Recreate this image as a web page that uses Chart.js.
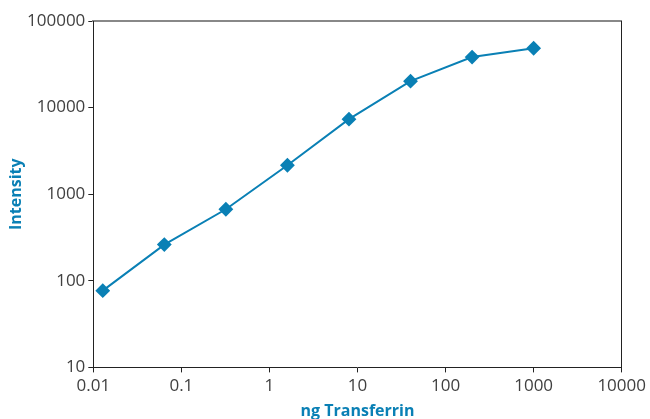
<!DOCTYPE html>
<html>
<head>
<meta charset="utf-8">
<script src="https://cdn.jsdelivr.net/npm/chart.js@4"></script>
<style>
  html, body { margin: 0; padding: 0; background: #fff; }
  #wrap { width: 650px; height: 419px; }
</style>
</head>
<body>
<div id="wrap"><canvas id="chart"></canvas></div>
<script>
// ng of transferrin (5x dilution series) and measured intensity
var ngTransferrin = [0.0128, 0.064, 0.32, 1.6, 8, 40, 200, 1000];
var intensity = [77, 262, 670, 2160, 7350, 20200, 38300, 48500];
var xTicks = [0.01, 0.1, 1, 10, 100, 1000, 10000];
var yTicks = [10, 100, 1000, 10000, 100000];

var blue = "#0a80b5";
var tickFont = { family: "'Open Sans'", size: 17 };

function decadeTicks(list) {
    return function (scale) {
        scale.ticks = list.map(function (v) { return { value: v }; });
    };
}

var points = [];
for (i = 0; i < ngTransferrin.length; i++) {
    points.push({ x: ngTransferrin[i], y: intensity[i] });
}

new Chart(document.getElementById("chart").getContext("2d"), {
    type: "line",
    data: {
        datasets: [{
            label: "Intensity",
            data: points,
            borderColor: blue,
            backgroundColor: blue,
            borderWidth: 2,
            pointStyle: "rectRot",
            pointRadius: 6,
            pointHoverRadius: 6,
            pointBackgroundColor: blue,
            pointBorderColor: blue,
            tension: 0
        }]
    },
    options: {
        responsive: true,
        maintainAspectRatio: false,
        animation: false,
        layout: { padding: { top: 13, right: 2, bottom: -2, left: 8 } },
        plugins: { legend: { display: false }, tooltip: { enabled: false } },
        scales: {
            x: {
                type: "logarithmic",
                min: 0.01,
                max: 10000,
                afterBuildTicks: decadeTicks(xTicks),
                grid: { drawOnChartArea: false, drawTicks: true, tickLength: 5, color: "#222" },
                border: { color: "#222", width: 1 },
                ticks: {
                    color: "#404040",
                    font: tickFont,
                    padding: 4,
                    maxRotation: 0,
                    callback: function (v) { return String(v); }
                },
                title: {
                    display: true,
                    text: "ng Transferrin",
                    color: blue,
                    font: { family: "'Open Sans'", size: 16, weight: "bold" },
                    padding: { top: 1, bottom: 0 }
                }
            },
            x2: {
                type: "logarithmic",
                position: "top",
                min: 0.01,
                max: 10000,
                grid: { display: false },
                border: { color: "#888", width: 2 },
                ticks: { display: false }
            },
            y: {
                type: "logarithmic",
                min: 10,
                max: 100000,
                afterBuildTicks: decadeTicks(yTicks),
                grid: { drawOnChartArea: false, drawTicks: true, tickLength: 5, color: "#222" },
                border: { color: "#222", width: 1 },
                ticks: {
                    color: "#404040",
                    font: tickFont,
                    padding: 3,
                    callback: function (v) { return String(v); }
                },
                title: {
                    display: true,
                    text: "Intensity",
                    color: blue,
                    font: { family: "'Open Sans'", size: 16, weight: "bold", lineHeight: 1 },
                    padding: { top: 0, bottom: 0 }
                }
            },
            y2: {
                type: "logarithmic",
                position: "right",
                min: 10,
                max: 100000,
                grid: { display: false },
                border: { color: "#222", width: 1 },
                ticks: { display: false }
            }
        }
    }
});
</script>
</body>
</html>
